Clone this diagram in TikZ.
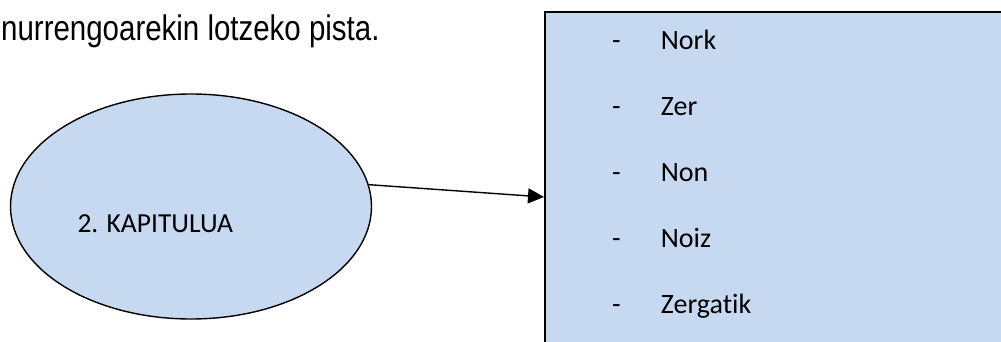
\documentclass[tikz,border=0pt]{standalone}
\usepackage{fontspec}
\setmainfont{Carlito}[Ligatures=NoCommon]
\newfontfamily\notefont[FakeStretch=0.83]{Liberation Sans}
\usepackage{xcolor}
\usetikzlibrary{shapes.geometric}
\usetikzlibrary{positioning}
\usetikzlibrary{arrows.meta}
\definecolor{boxblue}{HTML}{C6D9F1}
\tikzstyle{chapter}  = [ellipse, draw, line width=1.4pt, fill=boxblue, minimum width=361pt, minimum height=225pt, inner sep=0pt]
\tikzstyle{listbox}  = [rectangle, draw, line width=2pt, fill=boxblue, minimum width=480pt, minimum height=370pt, inner sep=0pt, anchor=north west]
\tikzstyle{item}     = [anchor=base west, inner sep=0pt, font=\fontsize{28}{34}\selectfont]
\tikzstyle{line}     = [draw, line width=1.4pt, -{Triangle[length=16pt,width=15pt]}]

\begin{document}
\begin{tikzpicture}[x=1pt, y=1pt]
        \useasboundingbox (0,0) rectangle (1001,-342);
        \node [anchor=base west, inner sep=0pt, font=\notefont\fontsize{35.5}{40}\selectfont] (note) at (1,-41) {nurrengoarekin lotzeko pista.};
        \node [chapter] (kap) at (191,-206.5) {};
        \node [anchor=base west, inner sep=0pt, font=\fontsize{27.5}{33}\selectfont] (kaptext) at ([xshift=-113.7pt,yshift=-26pt]kap.center) {2. KAPITULUA};
        \node [listbox] (list) at (544,-11) {};
        \node [item] (nork) at (612,-49.3) {\makebox[48.7pt][l]{-}Nork};
        \node [below=66pt of nork.base west, item] (zer) {\makebox[48.7pt][l]{-}Zer};
        \node [below=66pt of zer.base west, item] (non) {\makebox[48.7pt][l]{-}Non};
        \node [below=66pt of non.base west, item] (noiz) {\makebox[48.7pt][l]{-}Noiz};
        \node [below=66pt of noiz.base west, item] (zergatik) {\makebox[48.7pt][l]{-}Zergatik};
        \path [line] (kap.7) -- (list.west);
    \end{tikzpicture}
\end{document}
